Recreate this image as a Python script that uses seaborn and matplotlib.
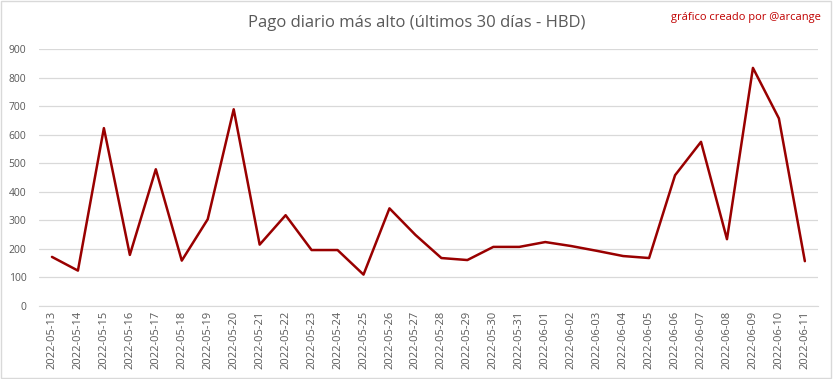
import matplotlib
matplotlib.use("Agg")
import matplotlib.pyplot as plt
import seaborn as sns
import pandas as pd

# Datos
fechas = ['2022-05-13', '2022-05-14', '2022-05-15', '2022-05-16', '2022-05-17',
          '2022-05-18', '2022-05-19', '2022-05-20', '2022-05-21', '2022-05-22',
          '2022-05-23', '2022-05-24', '2022-05-25', '2022-05-26', '2022-05-27',
          '2022-05-28', '2022-05-29', '2022-05-30', '2022-05-31', '2022-06-01',
          '2022-06-02', '2022-06-03', '2022-06-04', '2022-06-05', '2022-06-06',
          '2022-06-07', '2022-06-08', '2022-06-09', '2022-06-10', '2022-06-11']
pago = [172, 124, 623, 179, 479, 159, 304, 689, 215, 318,
        196, 196, 110, 342, 249, 168, 161, 207, 207, 224,
        210, 193, 175, 168, 458, 575, 234, 834, 657, 157]
ticks_y = [0, 100, 200, 300, 400, 500, 600, 700, 800, 900]

df = pd.DataFrame({'Fecha': fechas, 'Pago': pago})

sns.set_style("white")
plt.rcParams['font.family'] = ['Open Sans', 'DejaVu Sans']

fig = plt.figure(figsize=(8.33, 3.79), dpi=100)
ax = fig.add_axes([0.0468, 0.1926, 0.935, 0.678])

sns.lineplot(x='Fecha', y='Pago', data=df, ax=ax, color='#990000', linewidth=1.8, sort=False)

ax.set_xlim(-0.5, len(fechas) - 0.5)
ax.set_ylim(0, 900)
ax.set_yticks(ticks_y)
ax.yaxis.grid(True, color='#d9d9d9', linewidth=0.9)
ax.set_axisbelow(True)
for s in ['top', 'right', 'left']:
    ax.spines[s].set_visible(False)
ax.spines['bottom'].set_color('#d9d9d9')
ax.tick_params(axis='both', length=0, colors='#595959', labelsize=7.5)
ax.tick_params(axis='x', labelsize=8)
ax.tick_params(axis='y', pad=9)
ax.set_xticks(range(len(fechas)))
ax.set_xticklabels(fechas, rotation=90)
ax.set_xlabel('')
ax.set_ylabel('')

fig.text(0.5, 0.94, 'Pago diario más alto (últimos 30 días - HBD)', ha='center', va='center',
         fontsize=12, color='#595959')
fig.text(0.985, 0.955, 'gráfico creado por @arcange', ha='right', va='center',
         fontsize=8, color='#c00000')

# borde de la figura
fig.patches.append(plt.Rectangle((0.001, 0.002), 0.997, 0.995, transform=fig.transFigure,
                                 fill=False, edgecolor='#d9d9d9', linewidth=1))

fig.savefig('out.png', dpi=100)
